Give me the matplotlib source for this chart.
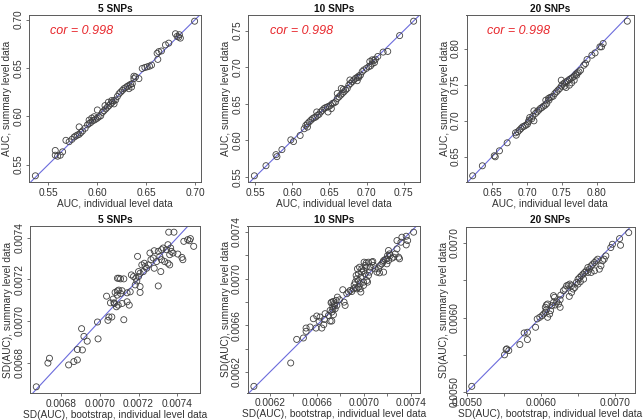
import matplotlib
matplotlib.use("Agg")
import matplotlib.pyplot as plt
import numpy as np

plt.rcParams['font.family'] = ['Liberation Sans', 'DejaVu Sans']

# ---------------- data ----------------
# Top row: AUC (values in units of 1e-3)
auc5_ind = [536.8, 557.1, 557.1, 559.5, 562.2, 564.6, 568.0, 571.3, 574.1, 576.4, 578.1, 579.8, 581.5, 583.2,
            581.5, 584.9, 587.6, 590.0, 591.7, 593.4, 595.1, 596.8, 598.4, 600.1, 601.8, 603.5, 591.7, 594.4,
            596.8, 600.1, 605.2, 606.9, 608.6, 610.3, 612.0, 613.7, 615.4, 617.1, 618.8, 607.9, 611.3, 614.7,
            617.1, 620.5, 622.2, 623.9, 625.6, 627.2, 628.9, 630.6, 632.3, 634.0, 635.7, 637.4, 637.4, 639.1,
            632.3, 635.0, 642.5, 645.9, 648.6, 651.0, 653.3, 655.4, 661.8, 661.1, 662.8, 665.5, 669.6, 673.0,
            679.8, 681.5, 683.1, 683.8, 684.8, 699.4]
auc5_sum = [538.4, 564.6, 559.7, 558.7, 559.7, 563.2, 575.1, 573.7, 576.1, 578.5, 579.6, 580.6, 581.3, 583.1,
            589.0, 584.8, 587.6, 591.1, 592.5, 593.6, 595.3, 596.0, 597.0, 598.1, 599.5, 600.5, 596.0, 598.1,
            599.5, 606.5, 604.0, 605.8, 607.5, 609.3, 611.0, 612.8, 614.5, 616.2, 616.9, 611.0, 614.5, 616.2,
            612.8, 620.4, 623.2, 625.0, 626.7, 628.5, 629.5, 630.9, 631.9, 633.0, 633.7, 641.4, 638.9, 640.7,
            628.5, 630.2, 638.9, 649.4, 650.4, 651.1, 651.8, 652.9, 658.8, 665.1, 666.8, 667.5, 673.8, 675.6,
            685.3, 682.6, 681.9, 684.3, 680.8, 698.3]

auc10_ind = [549.2, 564.8, 578.2, 579.5, 586.2, 598.2, 601.8, 610.7, 616.1, 618.3, 620.5, 622.7, 625.0, 620.5,
             627.2, 629.4, 631.7, 633.9, 636.1, 633.0, 638.3, 640.6, 642.8, 645.0, 647.3, 649.5, 651.7, 654.0,
             656.2, 658.4, 648.2, 652.6, 660.6, 662.9, 665.1, 667.3, 669.6, 671.8, 674.0, 660.6, 666.0, 668.7,
             676.2, 678.5, 680.7, 682.9, 685.2, 687.4, 689.6, 691.8, 677.6, 687.4, 689.6, 694.1, 696.3, 699.9,
             703.0, 705.2, 707.4, 704.3, 707.4, 709.7, 711.9, 710.6, 715.0, 722.2, 728.4, 744.4, 763.2]
auc10_sum = [551.7, 565.5, 580.6, 577.9, 587.5, 600.8, 598.5, 606.8, 616.0, 620.6, 622.9, 625.2, 627.5, 618.3,
             629.7, 631.1, 632.0, 634.3, 635.7, 638.9, 638.9, 641.2, 643.5, 644.9, 645.8, 646.7, 648.1, 650.4,
             651.3, 652.7, 638.9, 643.5, 657.3, 659.6, 661.9, 664.2, 666.5, 668.8, 671.1, 664.2, 671.1, 669.7,
             675.7, 678.0, 680.3, 682.6, 684.9, 686.2, 688.1, 689.4, 682.6, 681.6, 686.2, 694.0, 696.3, 698.6,
             700.9, 701.8, 704.6, 707.8, 710.1, 709.2, 711.0, 706.4, 714.7, 720.7, 721.6, 743.2, 762.9]

auc20_ind = [622.0, 635.9, 653.0, 654.4, 660.4, 671.5, 683.5, 684.5, 686.8, 689.1, 691.4, 693.7, 696.0, 698.3,
             700.6, 702.0, 702.9, 703.9, 706.7, 708.5, 709.9, 712.2, 714.5, 709.9, 716.8, 719.1, 721.4, 723.8,
             726.1, 728.4, 730.7, 733.0, 735.3, 737.6, 739.9, 742.3, 744.6, 727.0, 731.6, 746.9, 749.2, 751.5,
             753.8, 756.1, 758.4, 760.8, 763.1, 765.4, 767.7, 770.0, 772.3, 749.2, 753.8, 756.1, 760.8, 764.0,
             767.7, 771.4, 774.6, 776.9, 781.6, 783.9, 786.2, 793.1, 797.7, 804.7, 807.0, 809.3, 844.0]
auc20_sum = [623.4, 637.3, 651.2, 649.8, 658.1, 669.2, 683.1, 679.8, 684.5, 686.8, 689.1, 691.4, 692.3, 693.7,
             695.1, 698.3, 700.6, 704.3, 702.5, 706.2, 699.7, 709.9, 712.2, 713.6, 714.5, 716.8, 718.2, 720.1,
             721.5, 723.8, 730.7, 732.1, 733.0, 733.9, 737.6, 740.0, 742.3, 728.4, 728.4, 744.6, 747.8, 750.6,
             752.4, 753.8, 755.2, 757.1, 758.4, 759.8, 761.7, 764.4, 766.3, 756.1, 747.8, 746.0, 749.2, 752.4,
             756.1, 763.1, 767.7, 770.0, 776.9, 779.2, 784.8, 790.8, 794.0, 802.4, 802.4, 807.0, 838.0]

# Bottom row: SD(AUC) (values in units of 1e-6)
sd5_boot = [6672, 6732, 6740, 6839, 6866, 6884, 6884, 6910, 6906, 6918, 6935, 6988, 6991, 7035, 7042, 7047,
            7062, 7055, 7069, 7079, 7091, 7091, 7076, 7086, 7073, 7124, 7095, 7115, 7141, 7152, 7098, 7115,
            7090, 7107, 7141, 7157, 7098, 7107, 7124, 7163, 7174, 7186, 7200, 7191, 7183, 7208, 7208, 7200,
            7208, 7225, 7217, 7230, 7234, 7242, 7251, 7195, 7259, 7281, 7302, 7319, 7327, 7264, 7276, 7293,
            7310, 7319, 7335, 7352, 7361, 7315, 7302, 7281, 7344, 7352, 7366, 7369, 7378, 7361, 7356, 7383,
            7403, 7424, 7429, 7434, 7454, 7463, 7468, 7485]
sd5_sum = [6684, 6798, 6821, 6789, 6805, 6813, 6863, 6861, 6963, 6926, 6903, 6995, 6914, 7119, 7003, 7019,
           7019, 7087, 7105, 7137, 7144, 7205, 7084, 7068, 7087, 7006, 7076, 7084, 7092, 7076, 7148, 7145,
           7124, 7132, 7135, 7140, 7205, 7202, 7202, 7221, 7213, 7205, 7213, 7192, 7173, 7165, 7137, 7237,
           7229, 7237, 7269, 7277, 7261, 7253, 7269, 7310, 7326, 7337, 7334, 7342, 7350, 7294, 7302, 7285,
           7310, 7294, 7285, 7277, 7269, 7237, 7168, 7253, 7342, 7366, 7350, 7334, 7326, 7318, 7426, 7426,
           7321, 7305, 7294, 7382, 7390, 7385, 7395, 7358]

sd10_boot = [6063, 6377, 6428, 6485, 6508, 6508, 6542, 6570, 6593, 6599, 6627, 6619, 6642, 6659, 6670, 6664,
             6713, 6721, 6699, 6727, 6736, 6741, 6750, 6713, 6727, 6736, 6747, 6756, 6770, 6727, 6741, 6764,
             6775, 6793, 6821, 6832, 6841, 6855, 6870, 6884, 6898, 6912, 6927, 6941, 6955, 6969, 6975, 6918,
             6927, 6941, 6955, 6935, 6955, 6975, 6983, 6946, 6964, 6969, 6998, 6998, 6983, 6998, 7012, 7021,
             7026, 7032, 7040, 7049, 7055, 7069, 7077, 7003, 7021, 7040, 7012, 7083, 7097, 7112, 7126, 7140,
             7154, 7163, 7169, 7183, 7197, 7203, 7134, 7169, 7211, 7220, 7226, 7240, 7197, 7211, 7254, 7268,
             7283, 7297, 7305, 7283, 7317, 7325, 7362, 7362, 7374, 7425]
sd10_sum = [6077, 6277, 6479, 6491, 6548, 6576, 6585, 6656, 6576, 6679, 6670, 6633, 6576, 6605, 6699, 6650,
            6727, 6793, 6684, 6636, 6736, 6690, 6770, 6636, 6713, 6756, 6784, 6741, 6770, 6798, 6804, 6813,
            6841, 6818, 6904, 6798, 6770, 6870, 6884, 6898, 6889, 6912, 6921, 6912, 6926, 6912, 6884, 6946,
            6969, 6998, 6983, 7026, 7040, 7012, 7055, 7083, 7097, 6955, 6969, 6941, 7083, 7069, 7112, 7097,
            6983, 6969, 7026, 7055, 7097, 7140, 7146, 7140, 7134, 7140, 7040, 7112, 7083, 7055, 7083, 7112,
            7126, 7140, 7154, 7163, 7169, 7197, 7049, 7055, 7240, 7211, 7197, 7174, 7126, 7154, 7183, 7211,
            7254, 7183, 7169, 7325, 7311, 7354, 7288, 7362, 7325, 7397]

sd20_boot = [5066, 5509, 5531, 5540, 5567, 5717, 5775, 5819, 5819, 5930, 5952, 5987, 6018, 6040, 6062, 6076,
             6093, 6120, 6133, 6062, 6076, 6093, 6151, 6173, 6195, 6217, 6240, 6262, 6262, 6173, 6186, 6271,
             6306, 6328, 6350, 6372, 6394, 6417, 6386, 6417, 6439, 6461, 6483, 6505, 6527, 6549, 6572, 6594,
             6505, 6536, 6580, 6616, 6638, 6660, 6682, 6704, 6727, 6749, 6771, 6638, 6682, 6727, 6793, 6815,
             6837, 6859, 6881, 6948, 6970, 7067, 7080, 7191]
sd20_sum = [5076, 5499, 5570, 5579, 5557, 5637, 5793, 5802, 5704, 5869, 5981, 6003, 6025, 6047, 6070, 6105,
            6003, 6047, 6092, 6137, 6168, 6181, 6159, 6203, 6168, 6212, 6181, 6137, 6239, 6293, 6271, 6301,
            6359, 6382, 6426, 6435, 6449, 6426, 6284, 6337, 6382, 6404, 6471, 6515, 6538, 6560, 6582, 6605,
            6449, 6480, 6515, 6627, 6671, 6649, 6694, 6716, 6738, 6761, 6783, 6605, 6605, 6627, 6649, 6694,
            6761, 6783, 6827, 6939, 6983, 7059, 6970, 7139]

titles = ["5 SNPs", "10 SNPs", "20 SNPs"]
cor_text = "cor = 0.998"
top_xlabel = "AUC, individual level data"
top_ylabel = "AUC, summary level data"
bot_xlabel = "SD(AUC), bootstrap, individual level data"
bot_ylabel = "SD(AUC), summary level data"

top_ticks = [[0.55, 0.60, 0.65, 0.70],
             [0.55, 0.60, 0.65, 0.70, 0.75],
             [0.65, 0.70, 0.75, 0.80]]
bot_ticks = [[0.0068, 0.0070, 0.0072, 0.0074],
             [0.0062, 0.0064, 0.0066, 0.0068, 0.0070, 0.0072, 0.0074],
             [0.0050, 0.0055, 0.0060, 0.0065, 0.0070]]
bot_ticklabels = [["0.0068", "0.0070", "0.0072", "0.0074"],
                  ["0.0062", "", "0.0066", "", "0.0070", "", "0.0074"],
                  ["0.0050", "", "0.0060", "", "0.0070"]]

# ---------------- figure ----------------
fig = plt.figure(figsize=(6.43, 4.20), dpi=100)
W, H = 643.0, 420.0
boxes = [  # left, right, top, bottom in pixels
    (29, 201, 15, 182), (248, 420, 15, 182), (466.5, 633.5, 15, 182),
    (30, 200, 226, 393), (247.5, 420, 226, 392.5), (465.5, 635, 226.5, 392.5)]

panels = [
    (np.array(auc5_ind) / 1000, np.array(auc5_sum) / 1000),
    (np.array(auc10_ind) / 1000, np.array(auc10_sum) / 1000),
    (np.array(auc20_ind) / 1000, np.array(auc20_sum) / 1000),
    (np.array(sd5_boot) * 1e-6, np.array(sd5_sum) * 1e-6),
    (np.array(sd10_boot) * 1e-6, np.array(sd10_sum) * 1e-6),
    (np.array(sd20_boot) * 1e-6, np.array(sd20_sum) * 1e-6),
]

FS = 7.3
edge = '#5a5a5a'


def rlim(v):
    lo, hi = float(np.min(v)), float(np.max(v))
    r = hi - lo
    return lo - 0.04 * r, hi + 0.04 * r


for i, ((xv, yv), (l, r, t, b)) in enumerate(zip(panels, boxes)):
    ax = fig.add_axes([l / W, 1 - b / H, (r - l) / W, (b - t) / H])
    ax.scatter(xv, yv, s=19, facecolors='none', edgecolors='#404040', linewidths=0.6, zorder=3)
    ax.set_xlim(*rlim(xv))
    ax.set_ylim(*rlim(yv))
    ax.axline((0, 0), slope=1, color='#6b6bdc', lw=0.8, zorder=2)
    for s in ax.spines.values():
        s.set_color(edge)
        s.set_linewidth(0.7)
    ax.tick_params(length=2.5, width=0.6, color=edge, labelsize=FS, labelcolor='#333333', pad=1.5)
    ax.tick_params(axis='y', labelrotation=90)
    col = i % 3
    ax.set_title(titles[col], fontsize=7.3, fontweight='bold', pad=2.5, color='#111111')
    if i < 3:
        ax.set_xticks(top_ticks[col])
        ax.set_yticks(top_ticks[col])
        ax.set_xticklabels(["%.2f" % v for v in top_ticks[col]])
        ax.set_yticklabels(["%.2f" % v for v in top_ticks[col]], va='center')
        ax.set_xlabel(top_xlabel, fontsize=FS, labelpad=1, color='#333333')
        ax.set_ylabel(top_ylabel, fontsize=FS, labelpad=1, color='#333333')
        ax.text(0.125, 0.905, cor_text, transform=ax.transAxes, color='#e8262b',
                fontsize=9, fontstyle='italic', ha='left', va='center')
    else:
        ax.set_xticks(bot_ticks[col])
        ax.set_yticks(bot_ticks[col])
        ax.set_xticklabels(bot_ticklabels[col])
        ax.set_yticklabels(bot_ticklabels[col], va='center')
        ax.set_xlabel(bot_xlabel, fontsize=FS, labelpad=1, color='#333333')
        ax.set_ylabel(bot_ylabel, fontsize=FS, labelpad=1, color='#333333')

fig.savefig("out.png", dpi=100)
